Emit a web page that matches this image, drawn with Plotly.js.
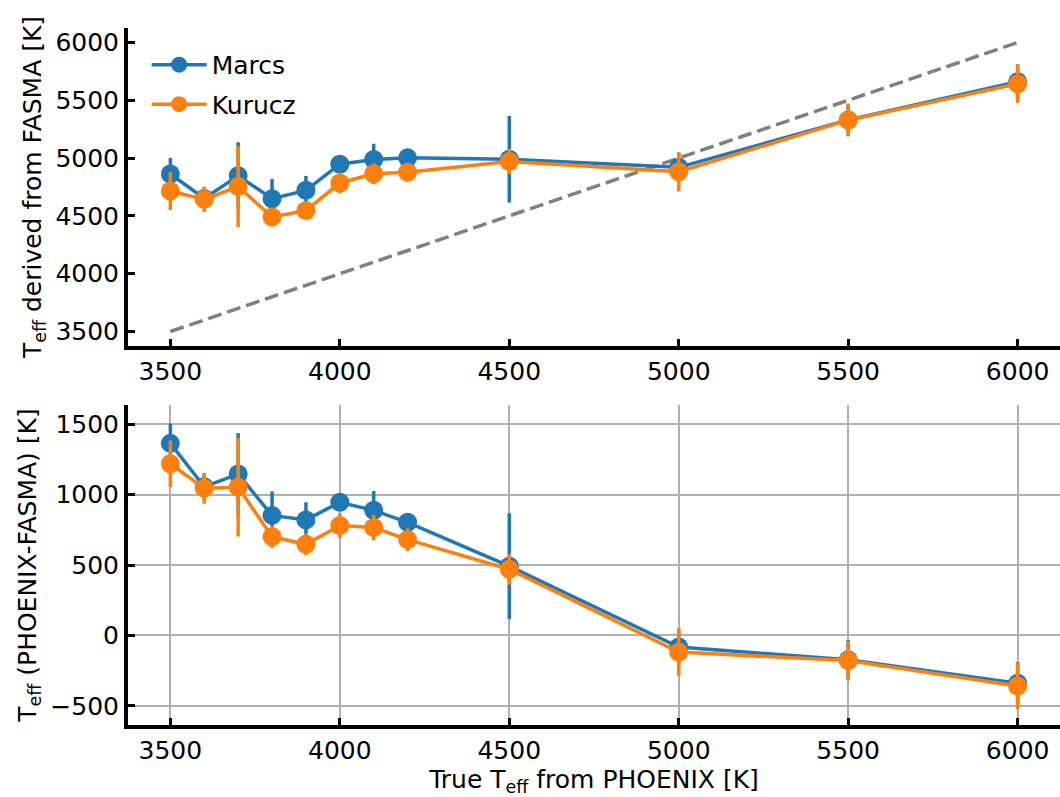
<!DOCTYPE html>
<html>
<head>
<meta charset="utf-8">
<script src="https://cdn.plot.ly/plotly-3.0.1.min.js"></script>
<style>
html, body { margin: 0; padding: 0; background: #fff; }
#chart { width: 1060px; height: 797px; }
</style>
</head>
<body>
<div id="chart"></div>
<script>
// True Teff from PHOENIX [K]
const teffTrue = [3500, 3600, 3700, 3800, 3900, 4000, 4100, 4200, 4500, 5000, 5500, 6000];

// Top panel: Teff derived from FASMA [K]
const marcsDerived  = [4862, 4651, 4847, 4649, 4721, 4947, 4987, 5002, 4990, 4920, 5330, 5660];
const kuruczDerived = [4715, 4643, 4754, 4491, 4546, 4785, 4865, 4878, 4970, 4882, 5328, 5643];
const marcsErr  = [140, 90, 290, 170, 125, 60, 137, 65, 375, 120, 140, 150];
const kuruczErr = [165, 110, 350, 80, 76, 88, 90, 80, 110, 170, 140, 165];

// Bottom panel: Teff (PHOENIX-FASMA) [K]
const marcsDiff  = [1363, 1055, 1145, 852, 820, 945, 888, 803, 492, -82, -172, -338];
const kuruczDiff = [1218, 1044, 1052, 700, 647, 780, 766, 680, 470, -118, -178, -358];

// One-to-one reference line
const refLineX = [3500, 6000];
const refLineY = [3500, 6000];

const seriesNames = ['Marcs', 'Kurucz'];
const blue = '#1f77b4', orange = '#ff7f0e';

function series(x, y, err, name, color, xa, ya, showLegend) {
  return {
    type: 'scatter', mode: 'lines+markers', x: x, y: y, name: name,
    xaxis: xa, yaxis: ya, showlegend: showLegend, legendgroup: name,
    line: { color: color, width: 3.5 },
    marker: { color: color, size: 19 },
    error_y: { type: 'data', array: err, visible: true, color: color, thickness: 3.5, width: 0 }
  };
}

const traces = [
  { type: 'scatter', mode: 'lines', x: refLineX, y: refLineY, xaxis: 'x', yaxis: 'y',
    showlegend: false, line: { color: '#808080', width: 3.5, dash: '14px,6px' }, hoverinfo: 'skip' },
  series(teffTrue, marcsDerived, marcsErr, seriesNames[0], blue, 'x', 'y', true),
  series(teffTrue, kuruczDerived, kuruczErr, seriesNames[1], orange, 'x', 'y', true),
  series(teffTrue, marcsDiff, marcsErr, seriesNames[0], blue, 'x2', 'y2', false),
  series(teffTrue, kuruczDiff, kuruczErr, seriesNames[1], orange, 'x2', 'y2', false)
];

const font = { family: 'DejaVu Sans', size: 25, color: '#000' };
const axisBase = {
  showline: true, linecolor: '#000', linewidth: 4, mirror: false,
  ticks: 'inside', ticklen: 7, tickwidth: 3, tickcolor: '#000',
  zeroline: false, tickfont: font
};

const layout = {
  width: 1060, height: 797,
  margin: { l: 128, r: 0, t: 28, b: 72 },
  paper_bgcolor: '#fff', plot_bgcolor: '#fff',
  font: font,
  showlegend: true,
  legend: { x: 0.02, y: 0.98, xanchor: 'left', yanchor: 'top', bgcolor: 'rgba(0,0,0,0)',
            font: font, itemwidth: 55, tracegroupgap: 4 },
  xaxis: Object.assign({}, axisBase, { anchor: 'y', range: [3375, 6125], tick0: 3500, dtick: 500, showgrid: false }),
  yaxis: Object.assign({}, axisBase, { anchor: 'x', domain: [0.5438, 1], range: [3375, 6125], tick0: 3500, dtick: 500, showgrid: false,
    title: { text: 'T<sub>eff</sub> derived from FASMA [K]', font: font, standoff: 8 } }),
  xaxis2: Object.assign({}, axisBase, { anchor: 'y2', range: [3375, 6125], tick0: 3500, dtick: 500,
    showgrid: true, gridcolor: '#b0b0b0', gridwidth: 2,
    title: { text: 'True T<sub>eff</sub> from PHOENIX [K]', font: font, standoff: 6 } }),
  yaxis2: Object.assign({}, axisBase, { anchor: 'x2', domain: [0, 0.4591], range: [-635, 1635], tick0: -500, dtick: 500,
    showgrid: true, gridcolor: '#b0b0b0', gridwidth: 2,
    title: { text: 'T<sub>eff</sub> (PHOENIX-FASMA) [K]', font: font, standoff: 8 } })
};

Plotly.newPlot('chart', traces, layout, { displayModeBar: false, staticPlot: true });
</script>
</body>
</html>
